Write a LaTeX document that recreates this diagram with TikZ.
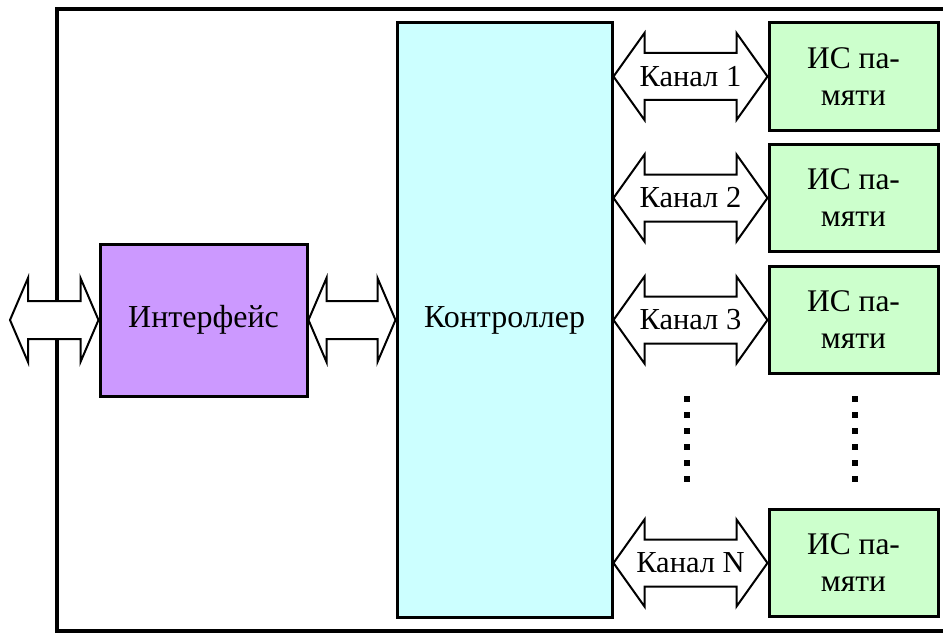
\documentclass[tikz,border=0pt]{standalone}
\usepackage{fontspec}
\setmainfont{Liberation Serif}
\usetikzlibrary{calc}
\definecolor{intfc}{HTML}{CC99FF}
\definecolor{ctrlc}{HTML}{CCFFFF}
\definecolor{memc}{HTML}{CCFFCC}
\newcommand\dblarrow[5]{%
  \draw[arr] let \p1=(#1), \p2=(#2) in
    (\x1,\y1) -- (\x1+#5,\y1+#4) -- (\x1+#5,\y1+#3) -- (\x2-#5,\y1+#3) --
    (\x2-#5,\y1+#4) -- (\x2,\y1) -- (\x2-#5,\y1-#4) -- (\x2-#5,\y1-#3) --
    (\x1+#5,\y1-#3) -- (\x1+#5,\y1-#4) -- cycle;}
\begin{document}
\begin{tikzpicture}[x=1pt,y=-1pt,
  box/.style={draw, line width=3pt, inner sep=0pt, align=center,
    font=\fontsize{32}{37}\selectfont},
  membox/.style={box, fill=memc, minimum width=169pt, minimum height=107pt,
    font=\fontsize{31.5}{37}\selectfont},
  arr/.style={draw, fill=white, line width=2pt, line join=miter},
  lbl/.style={inner sep=0pt, font=\fontsize{30.5}{35}\selectfont}]
\useasboundingbox (0,0) rectangle (943,634);
\fill[white] (0,0) rectangle (943,634);
\draw[line width=4pt] (943,9) -- (57,9) -- (57,631) -- (943,631);
% blocks
\node[box, fill=intfc, minimum width=207pt, minimum height=152pt] (intf) at (203.5,320) {Интерфейс};
\node[box, fill=ctrlc, minimum width=215pt, minimum height=594pt] (ctrl) at (504.5,320) {Контроллер};
\node[membox] (m1) at (853.5,76.5) {ИС па-\\мяти};
\node[membox] (m2) at (853.5,198) {ИС па-\\мяти};
\node[membox] (m3) at (853.5,320) {ИС па-\\мяти};
\node[membox] (mN) at (853.5,563) {ИС па-\\мяти};
\coordinate (ext) at (10,320);
% arrows
\dblarrow{ext}{intf.west}{19pt}{42pt}{18pt}
\dblarrow{intf.east}{ctrl.west}{19pt}{42pt}{18pt}
\dblarrow{ctrl.east |- m1.west}{m1.west}{23.5pt}{43.5pt}{31pt}
\dblarrow{ctrl.east |- m2.west}{m2.west}{23.5pt}{43.5pt}{31pt}
\dblarrow{ctrl.east |- m3.west}{m3.west}{23.5pt}{43.5pt}{31pt}
\dblarrow{ctrl.east |- mN.west}{mN.west}{23.5pt}{43.5pt}{31pt}
\node[lbl] (k1) at ($(ctrl.east |- m1.west)!0.5!(m1.west)$) {Канал 1};
\node[lbl] (k2) at ($(ctrl.east |- m2.west)!0.5!(m2.west)$) {Канал 2};
\node[lbl] (k3) at ($(ctrl.east |- m3.west)!0.5!(m3.west)$) {Канал 3};
\node[lbl] (kN) at ($(ctrl.east |- mN.west)!0.5!(mN.west)$) {Канал N};
% dots
\foreach \i in {0,...,5} {
  \fill (684,396+16*\i) rectangle ++(6,6);
  \fill (852,396+16*\i) rectangle ++(6,6);
}
\end{tikzpicture}
\end{document}
